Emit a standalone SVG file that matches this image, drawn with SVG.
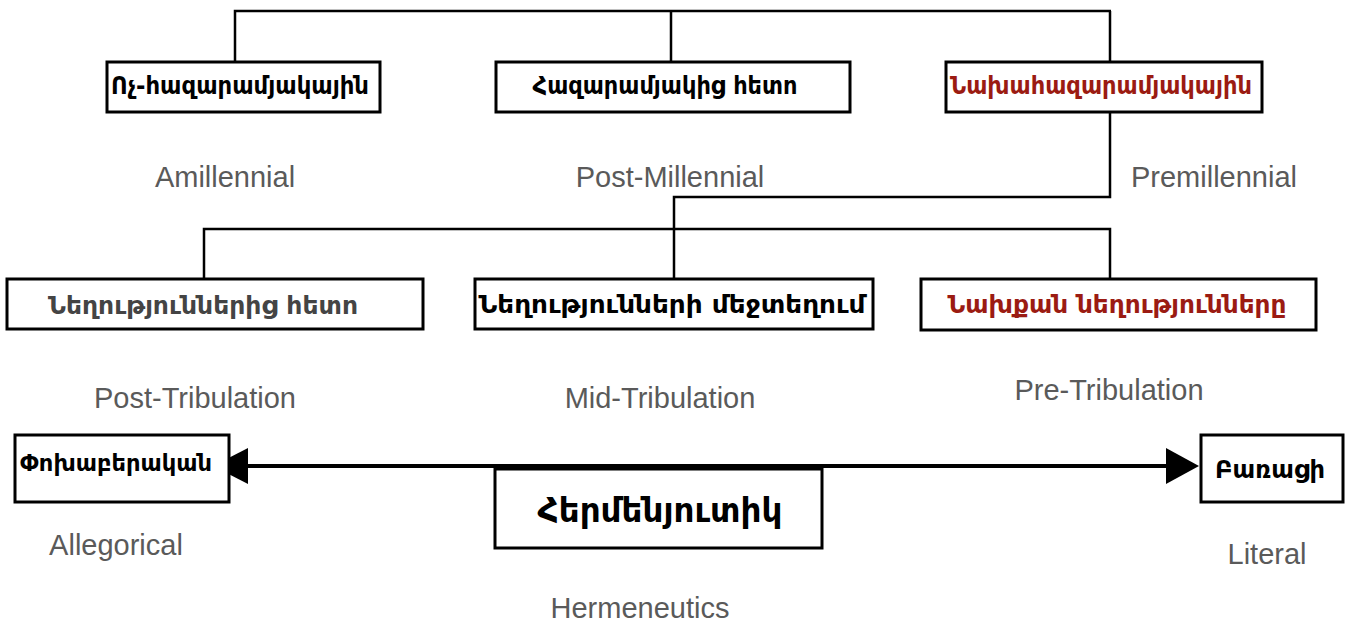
<svg xmlns="http://www.w3.org/2000/svg" width="1345" height="622" viewBox="0 0 1345 622">
<style>
.box{fill:#fff;stroke:#000;stroke-width:3}
.hy{font-family:"DejaVu Sans","Noto Sans",sans-serif;font-weight:bold;font-size:25px;text-anchor:middle}
.en{font-family:"Liberation Sans",Arial,sans-serif;font-size:29px;fill:#5a5a5a;text-anchor:middle}
.ln{fill:none;stroke:#000;stroke-width:2.5}
.red{fill:#9b1b12}
</style>
<g id="connectors">
<path class="ln" d="M235,62 V11 H1111 M671,11 V62 M1110,11 V62"/>
<path class="ln" d="M1110,112 V197 H674 V279"/>
<path class="ln" d="M204,279 V229 H1110 V279"/>
<line x1="248" y1="466" x2="1167" y2="466" stroke="#000" stroke-width="4"/>
<path d="M213,466 L248,448 L248,484 Z" fill="#000"/>
<path d="M1199,466 L1166,448 L1166,484 Z" fill="#000"/>
</g>
<g id="n-amil">
<rect class="box" x="107" y="62" width="273" height="50"/>
<text class="hy" x="240" y="94" textLength="258" lengthAdjust="spacingAndGlyphs">Ոչ-հազարամյակային</text>
<text class="en" x="225" y="187">Amillennial</text>
</g>
<g id="n-post">
<rect class="box" x="496" y="62" width="354" height="50"/>
<text class="hy" x="665" y="94" textLength="265" lengthAdjust="spacingAndGlyphs">Հազարամյակից հետո</text>
<text class="en" x="670" y="187">Post-Millennial</text>
</g>
<g id="n-pre">
<rect class="box" x="946" y="62" width="316" height="50"/>
<text class="hy red" x="1101" y="94" textLength="302" lengthAdjust="spacingAndGlyphs">Նախահազարամյակային</text>
<text class="en" x="1214" y="187">Premillennial</text>
</g>
<g id="n-posttrib">
<rect class="box" x="7" y="279" width="416" height="50"/>
<text class="hy" x="203" y="314" textLength="310" lengthAdjust="spacingAndGlyphs" style="fill:#444">Նեղություններից հետո</text>
<text class="en" x="195" y="408">Post-Tribulation</text>
</g>
<g id="n-midtrib">
<rect class="box" x="475" y="279" width="398" height="50"/>
<text class="hy" x="672" y="313" textLength="387" lengthAdjust="spacingAndGlyphs">Նեղությունների մեջտեղում</text>
<text class="en" x="660" y="408">Mid-Tribulation</text>
</g>
<g id="n-pretrib">
<rect class="box" x="921" y="279" width="395" height="51"/>
<text class="hy red" x="1117" y="313" textLength="339" lengthAdjust="spacingAndGlyphs">Նախքան նեղությունները</text>
<text class="en" x="1109" y="400">Pre-Tribulation</text>
</g>
<g id="n-alleg">
<rect class="box" x="15" y="435" width="214" height="67"/>
<text class="hy" x="116" y="471" textLength="192" lengthAdjust="spacingAndGlyphs" style="font-size:23px">Փոխաբերական</text>
<text class="en" x="116" y="555">Allegorical</text>
</g>
<g id="n-literal">
<rect class="box" x="1201" y="435" width="142" height="67"/>
<text class="hy" x="1270" y="478" textLength="110" lengthAdjust="spacingAndGlyphs" style="font-size:25px">Բառացի</text>
<text class="en" x="1267" y="564">Literal</text>
</g>
<g id="n-herm">
<rect class="box" x="495" y="469" width="327" height="79"/>
<text class="hy" x="660" y="522" textLength="245" lengthAdjust="spacingAndGlyphs" style="font-size:33px">Հերմենյուտիկ</text>
<text class="en" x="640" y="618">Hermeneutics</text>
</g>
</svg>
